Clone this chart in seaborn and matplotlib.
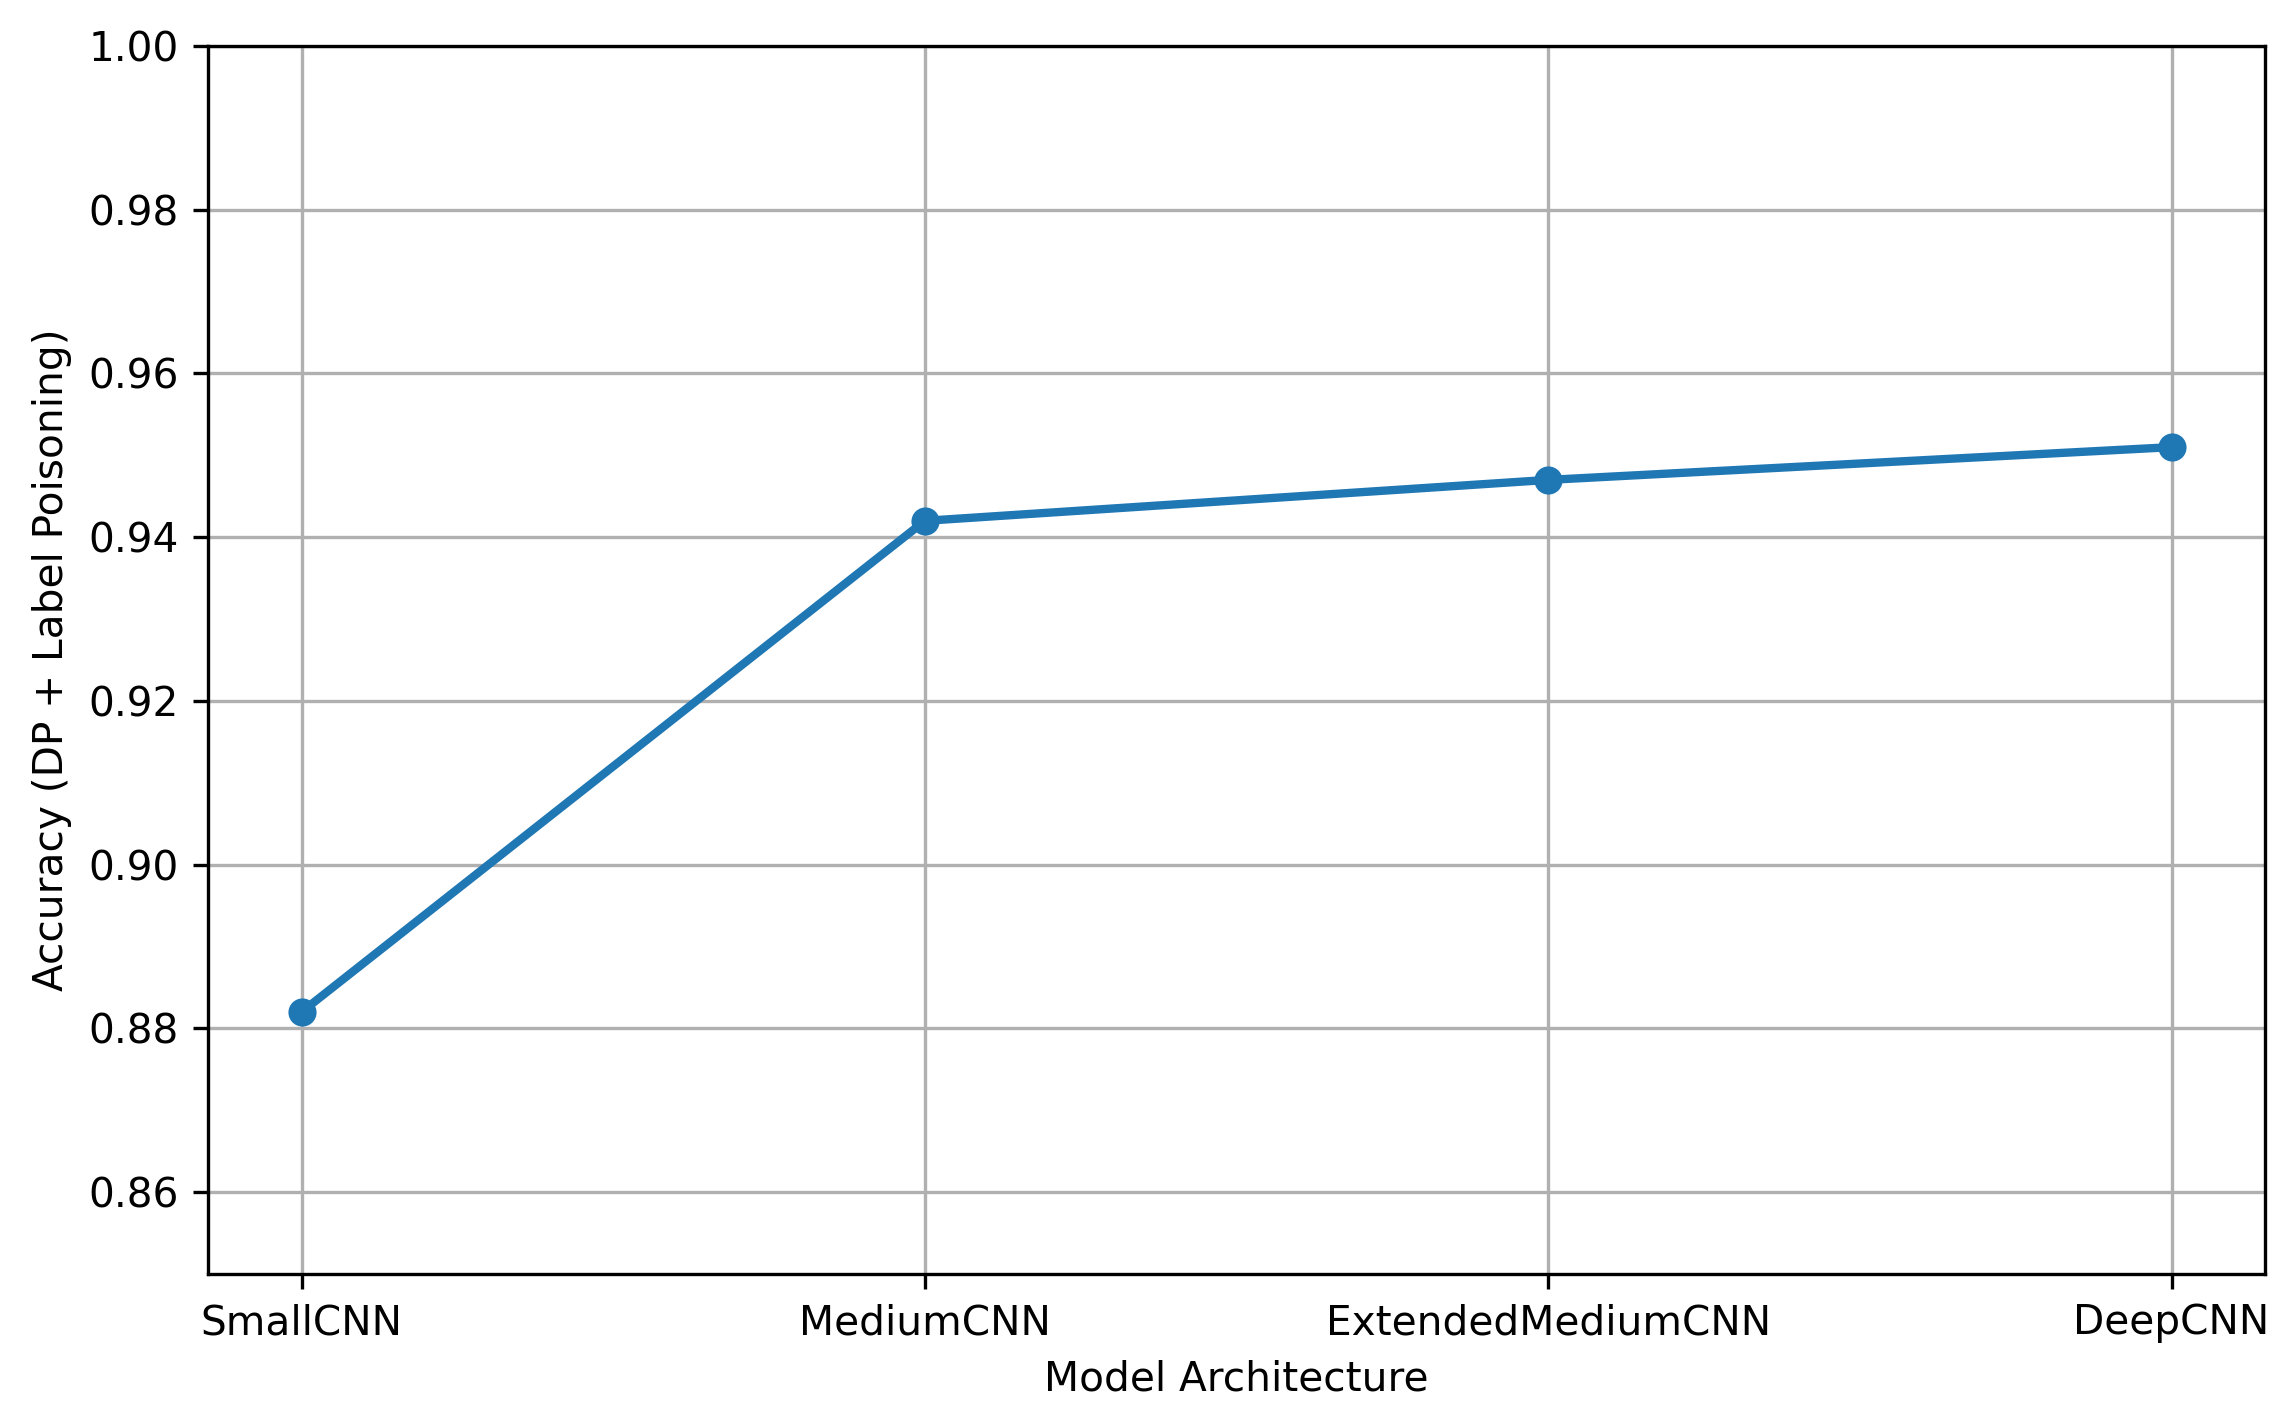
import pandas as pd
import matplotlib
matplotlib.use('Agg')
import matplotlib.pyplot as plt
import seaborn as sns

models = ['SmallCNN', 'MediumCNN', 'ExtendedMediumCNN', 'DeepCNN']
accuracy = [0.882, 0.942, 0.947, 0.951]

df = pd.DataFrame({'model': models, 'accuracy': accuracy})

plt.rcParams['font.size'] = 9.75

W, H, DPI = 2291, 1419, 300
fig, ax = plt.subplots(figsize=(W / DPI, H / DPI), dpi=DPI)
fig.subplots_adjust(left=208 / W, right=2265 / W, top=1 - 46 / H, bottom=1 - 1274 / H)

sns.lineplot(x='model', y='accuracy', data=df, marker='o', markersize=6,
             linewidth=2, color='#1f77b4', markeredgecolor='#1f77b4', sort=False, ax=ax)

ax.set_ylim(0.85, 1.00)
ax.set_xlabel('Model Architecture')
ax.set_ylabel('Accuracy (DP + Label Poisoning)')
ax.grid(True)

fig.savefig('out.png', dpi=DPI)
